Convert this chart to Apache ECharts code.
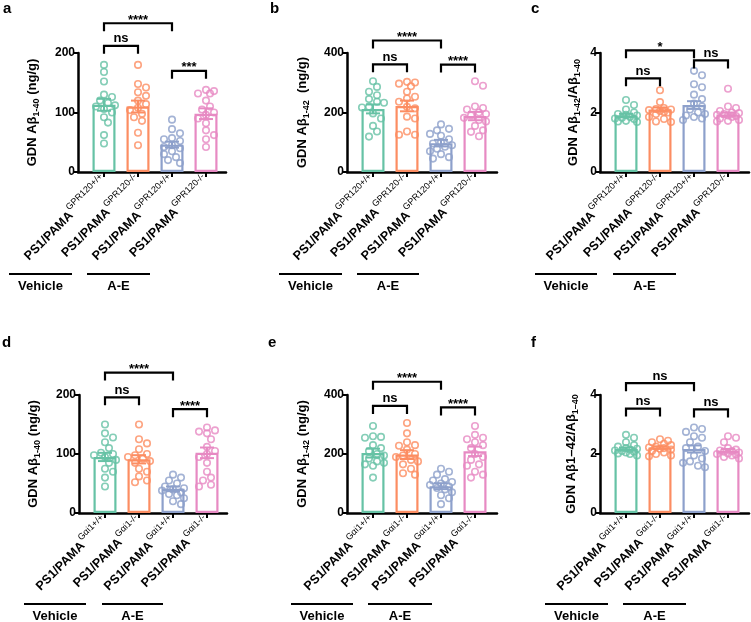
<!DOCTYPE html>
<html>
<head>
<meta charset="utf-8">
<script src="https://cdn.jsdelivr.net/npm/echarts@6/dist/echarts.min.js"></script>
<style>
  html, body { margin: 0; background: #fff; }
  #chart { width: 751px; height: 622px; }
</style>
</head>
<body>
<div id="chart"></div>
<script>
// group colours: vehicle WT, vehicle KO, A-E WT, A-E KO
const colors = ['#66c2a5', '#fc8d62', '#8da0cb', '#e78ac3'];
const gprLabels = ['GPR120+/+', 'GPR120-/-', 'GPR120+/+', 'GPR120-/-'];
const gaiLabels = ['Gαi1+/+', 'Gαi1-/-', 'Gαi1+/+', 'Gαi1-/-'];

// a: Aβ1-40, GPR120
const aMeans = [113, 110, 46, 98];
const aSems = [10, 10, 5, 9];
const aPts = [
  [180, 168, 152, 130, 126, 120, 116, 112, 110, 106, 100, 92, 83, 62, 48],
  [180, 148, 142, 134, 128, 120, 114, 108, 104, 98, 92, 86, 66, 45],
  [88, 72, 65, 57, 55, 52, 45, 42, 40, 35, 30, 25, 20, 15],
  [138, 136, 132, 132, 120, 110, 105, 100, 96, 90, 82, 70, 62, 55, 42]
];
const aSig = [[0, 2, 250, '****'], [0, 1, 212, 'ns'], [2, 3, 170, '***']];

// b: Aβ1-42, GPR120
const bMeans = [212, 222, 97, 188];
const bSems = [15, 18, 11, 14];
const bPts = [
  [305, 286, 270, 258, 245, 236, 233, 219, 217, 197, 180, 155, 136, 119],
  [303, 301, 297, 288, 270, 253, 247, 236, 219, 214, 186, 180, 136, 125, 125],
  [160, 145, 140, 128, 122, 110, 100, 96, 90, 85, 78, 70, 60, 50, 45],
  [305, 290, 220, 215, 210, 200, 195, 190, 182, 175, 170, 155, 140, 135, 120]
];
const bSig = [[0, 2, 442, '****'], [0, 1, 362, 'ns'], [2, 3, 361, '****']];

// c: ratio, GPR120
const cMeans = [1.90, 2.10, 2.25, 1.93];
const cSems = [0.06, 0.07, 0.13, 0.07];
const cPts = [
  [2.42, 2.25, 2.1, 2.0, 1.95, 1.92, 1.9, 1.85, 1.82, 1.8, 1.78, 1.72, 1.7, 1.68],
  [2.75, 2.35, 2.15, 2.12, 2.1, 2.08, 2.05, 2.02, 2.0, 1.95, 1.85, 1.78, 1.7, 1.68],
  [3.4, 3.25, 2.95, 2.85, 2.6, 2.45, 2.3, 2.2, 2.1, 2.0, 1.95, 1.9, 1.85, 1.8, 1.75],
  [2.8, 2.2, 2.15, 2.05, 2.0, 1.98, 1.95, 1.92, 1.9, 1.88, 1.85, 1.8, 1.75, 1.72, 1.7]
];
const cSig = [[0, 2, 4.09, '*'], [0, 1, 3.15, 'ns'], [2, 3, 3.75, 'ns']];

// d: Aβ1-40, Gαi1
const dMeans = [95, 91, 41, 102];
const dSems = [7, 7, 4, 9];
const dPts = [
  [150, 135, 128, 120, 110, 102, 100, 98, 95, 90, 85, 75, 70, 60, 45],
  [150, 125, 118, 108, 100, 98, 95, 92, 88, 85, 75, 70, 62, 55, 52],
  [65, 60, 55, 50, 45, 42, 40, 38, 35, 32, 30, 25, 20, 15],
  [145, 140, 138, 135, 125, 112, 105, 100, 95, 85, 70, 60, 55, 48, 45]
];
const dSig = [[0, 2, 238, '****'], [0, 1, 196, 'ns'], [2, 3, 176, '****']];

// e: Aβ1-42, Gαi1
const eMeans = [203, 198, 91, 209];
const eSems = [15, 15, 10, 16];
const ePts = [
  [295, 260, 258, 255, 230, 220, 210, 200, 195, 185, 175, 170, 165, 160, 120],
  [305, 270, 240, 230, 228, 215, 200, 195, 190, 180, 175, 165, 150, 135, 130],
  [150, 140, 130, 115, 110, 105, 100, 95, 90, 85, 80, 70, 60, 50, 30],
  [295, 265, 255, 250, 240, 230, 220, 200, 190, 180, 165, 160, 140, 130, 120]
];
const eSig = [[0, 2, 445, '****'], [0, 1, 363, 'ns'], [2, 3, 358, '****']];

// f: ratio, Gαi1
const fMeans = [2.17, 2.22, 2.17, 2.11];
const fSems = [0.05, 0.04, 0.12, 0.06];
const fPts = [
  [2.65, 2.55, 2.4, 2.3, 2.25, 2.2, 2.18, 2.15, 2.12, 2.1, 2.08, 2.05, 2.02, 2.0, 1.95],
  [2.5, 2.45, 2.4, 2.35, 2.3, 2.25, 2.22, 2.2, 2.18, 2.15, 2.1, 2.05, 2.0, 1.95, 1.92],
  [2.9, 2.85, 2.75, 2.6, 2.55, 2.4, 2.25, 2.2, 2.1, 1.95, 1.85, 1.75, 1.7, 1.6, 1.55],
  [2.6, 2.55, 2.4, 2.2, 2.15, 2.12, 2.1, 2.08, 2.05, 2.02, 2.0, 1.98, 1.95, 1.9, 1.85]
];
const fSig = [[0, 2, 4.40, 'ns'], [0, 1, 3.54, 'ns'], [2, 3, 3.51, 'ns']];

const FONT = 'Liberation Sans, Arial, Helvetica, sans-serif';
const SPACING = 34;   // px between group centres
const FIRST = 26;     // px from y axis to first group centre

const panels = [
  { letter: 'a', lx: 3,   left: 78,  top: 53,  w: 148, h: 119, max: 200, step: 100, means: aMeans, sems: aSems, pts: aPts, sig: aSig, labels: gprLabels, gap: 36,
    title: '{t|GDN Aβ}{s|1-40}{t| (ng/g)}', groups: [[9, 72], [87, 150]], gy: 274 },
  { letter: 'b', lx: 270, left: 347, top: 53,  w: 150, h: 119, max: 400, step: 200, means: bMeans, sems: bSems, pts: bPts, sig: bSig, labels: gprLabels, gap: 35,
    title: '{t|GDN Aβ}{s|1-42}{t|  (ng/g)}', groups: [[279, 342], [357, 419]], gy: 274 },
  { letter: 'c', lx: 531, left: 600, top: 53,  w: 149, h: 119, max: 4,   step: 2,   means: cMeans, sems: cSems, pts: cPts, sig: cSig, labels: gprLabels, gap: 17,
    title: '{t|GDN Aβ}{s|1-42}{t|/Aβ}{s|1-40}', groups: [[535, 597], [613, 676]], gy: 274 },
  { letter: 'd', lx: 2,   left: 79,  top: 395, w: 148, h: 118, max: 200, step: 100, means: dMeans, sems: dSems, pts: dPts, sig: dSig, labels: gaiLabels, gap: 36,
    title: '{t|GDN Aβ}{s|1-40}{t| (ng/g)}', groups: [[24, 86], [102, 163]], gy: 604 },
  { letter: 'e', lx: 268, left: 347, top: 395, w: 150, h: 118, max: 400, step: 200, means: eMeans, sems: eSems, pts: ePts, sig: eSig, labels: gaiLabels, gap: 35,
    title: '{t|GDN Aβ}{s|1-42}{t| (ng/g)}', groups: [[291, 353], [368, 432]], gy: 604 },
  { letter: 'f', lx: 531, left: 600, top: 395, w: 149, h: 118, max: 4,   step: 2,   means: fMeans, sems: fSems, pts: fPts, sig: fSig, labels: gaiLabels, gap: 19,
    title: '{t|GDN Aβ1–42/Aβ}{s|1–40}', groups: [[545, 608], [623, 686]], gy: 604 }
];

// simple beeswarm kept inside the bar: push a point sideways until it clears
// the ones already placed, else take the least crowded slot
const SLOTS = [0, 4, -4, 8, -8, 11, -11];
function swarm(vals, pxPerUnit) {
  const placed = [];
  return vals.map(v => {
    const py = v * pxPerUnit;
    let best = 0, bestD = -1;
    for (const c of SLOTS) {
      const d = placed.length ? Math.min(...placed.map(q => Math.hypot(q[0] - c, q[1] - py))) : Infinity;
      if (d >= 6.5) { best = c; break; }
      if (d > bestD) { bestD = d; best = c; }
    }
    placed.push([best, py]);
    return [best / SPACING, v];
  });
}

const grid = [], xAxis = [], yAxis = [], series = [], graphic = [];

panels.forEach((p, k) => {
  const xmin = -FIRST / SPACING;
  grid.push({ left: p.left, top: p.top, width: p.w, height: p.h });
  xAxis.push({
    type: 'value', gridIndex: k, min: xmin, max: xmin + p.w / SPACING,
    splitLine: { show: false },
    axisLine: { onZero: false, lineStyle: { color: '#000', width: 2.5 } },
    axisTick: { customValues: [0, 1, 2, 3], length: 5, lineStyle: { color: '#000', width: 2 } },
    axisLabel: {
      customValues: [0, 1, 2, 3], rotate: 45, margin: 6,
      formatter: v => '{m|PS1/PAMA}{s|' + p.labels[Math.round(v)] + '}',
      rich: {
        // superscript: both tokens share one tall line, main text sits low, sup sits high
        m: { fontFamily: FONT, fontSize: 12.5, fontWeight: 'bold', color: '#000', height: 14, lineHeight: 18, verticalAlign: 'bottom' },
        s: { fontFamily: FONT, fontSize: 9, color: '#000', height: 10, lineHeight: 18, verticalAlign: 'top', padding: [0, 0, 0, 1] }
      }
    }
  });
  yAxis.push({
    type: 'value', gridIndex: k, min: 0, max: p.max, interval: p.step,
    splitLine: { show: false },
    axisLine: { show: true, onZero: false, lineStyle: { color: '#000', width: 2.5 } },
    axisTick: { show: true, length: 5, lineStyle: { color: '#000', width: 2 } },
    axisLabel: { color: '#000', fontFamily: FONT, fontSize: 12, fontWeight: 'bold', margin: 3 },
    name: p.title, nameLocation: 'middle', nameRotate: 90, nameGap: p.gap,
    nameTextStyle: {
      rich: {
        t: { fontFamily: FONT, fontSize: 13, fontWeight: 'bold', color: '#000', height: 14, lineHeight: 17, verticalAlign: 'top' },
        s: { fontFamily: FONT, fontSize: 9, fontWeight: 'bold', color: '#000', height: 10, lineHeight: 17, verticalAlign: 'bottom' }
      }
    }
  });

  // bars (hollow)
  series.push({
    type: 'bar', xAxisIndex: k, yAxisIndex: k, barWidth: 23, z: 2,
    data: p.means.map((m, i) => ({ value: [i, m], itemStyle: { color: '#fff', borderColor: colors[i], borderWidth: 2.2 } }))
  });

  // individual animals
  const pxPerUnit = p.h / p.max;
  p.pts.forEach((vals, i) => {
    series.push({
      type: 'scatter', xAxisIndex: k, yAxisIndex: k, z: 3,
      symbol: 'circle', symbolSize: 6.5,
      itemStyle: { color: 'rgba(255,255,255,0)', borderColor: colors[i], borderWidth: 1.6 },
      data: swarm(vals, pxPerUnit).map(d => [i + d[0], d[1]])
    });
  });

  // mean ± SEM
  series.push({
    type: 'custom', xAxisIndex: k, yAxisIndex: k, z: 4,
    encode: { x: 0, y: 1 },
    data: p.means.map((m, i) => [i, m, p.sems[i]]),
    renderItem: (params, api) => {
      const i = api.value(0), m = api.value(1), s = api.value(2);
      const hi = api.coord([i, m + s]), lo = api.coord([i, m - s]);
      const st = { stroke: colors[i], lineWidth: 2 };
      return {
        type: 'group', children: [
          { type: 'line', shape: { x1: hi[0], y1: hi[1], x2: lo[0], y2: lo[1] }, style: st },
          { type: 'line', shape: { x1: hi[0] - 7, y1: hi[1], x2: hi[0] + 7, y2: hi[1] }, style: st },
          { type: 'line', shape: { x1: lo[0] - 7, y1: lo[1], x2: lo[0] + 7, y2: lo[1] }, style: st }
        ]
      };
    }
  });

  // significance brackets
  series.push({
    type: 'custom', xAxisIndex: k, yAxisIndex: k, z: 5, clip: false,
    encode: { x: 0, y: 2 },
    data: p.sig.map(s => [s[0], s[1], s[2]]),
    renderItem: (params, api) => {
      const a = api.coord([api.value(0), api.value(2)]);
      const b = api.coord([api.value(1), api.value(2)]);
      const txt = p.sig[params.dataIndex][3];
      const stars = txt.indexOf('*') >= 0;
      return {
        type: 'group', children: [
          { type: 'polyline', shape: { points: [[a[0], a[1] + 8], [a[0], a[1]], [b[0], b[1]], [b[0], b[1] + 8]] },
            style: { stroke: '#000', lineWidth: 2.2, fill: null } },
          { type: 'text', style: {
              text: txt, x: (a[0] + b[0]) / 2, y: a[1] - (stars ? 3 : 7),
              fill: '#000', fontFamily: FONT, fontSize: 13, fontWeight: 'bold',
              align: 'center', verticalAlign: 'middle' } }
        ]
      };
    }
  });

  // panel letter
  graphic.push({ type: 'text', left: p.lx, top: p.top - 53 + (k < 3 ? 1 : -7),
    style: { text: p.letter, fill: '#000', font: 'bold 15px ' + FONT } });

  // Vehicle / A-E group lines
  ['Vehicle', 'A-E'].forEach((name, j) => {
    const [x1, x2] = p.groups[j];
    graphic.push({ type: 'line', shape: { x1: x1, y1: p.gy, x2: x2, y2: p.gy },
      style: { stroke: '#000', lineWidth: 2 } });
    graphic.push({ type: 'text', x: (x1 + x2) / 2, y: p.gy + 12,
      style: { text: name, fill: '#000', font: 'bold 13px ' + FONT, align: 'center', verticalAlign: 'middle' } });
  });
});

const chart = echarts.init(document.getElementById('chart'), null, { renderer: 'canvas' });
chart.setOption({
  animation: false,
  backgroundColor: '#fff',
  grid, xAxis, yAxis, series, graphic
});
</script>
</body>
</html>
